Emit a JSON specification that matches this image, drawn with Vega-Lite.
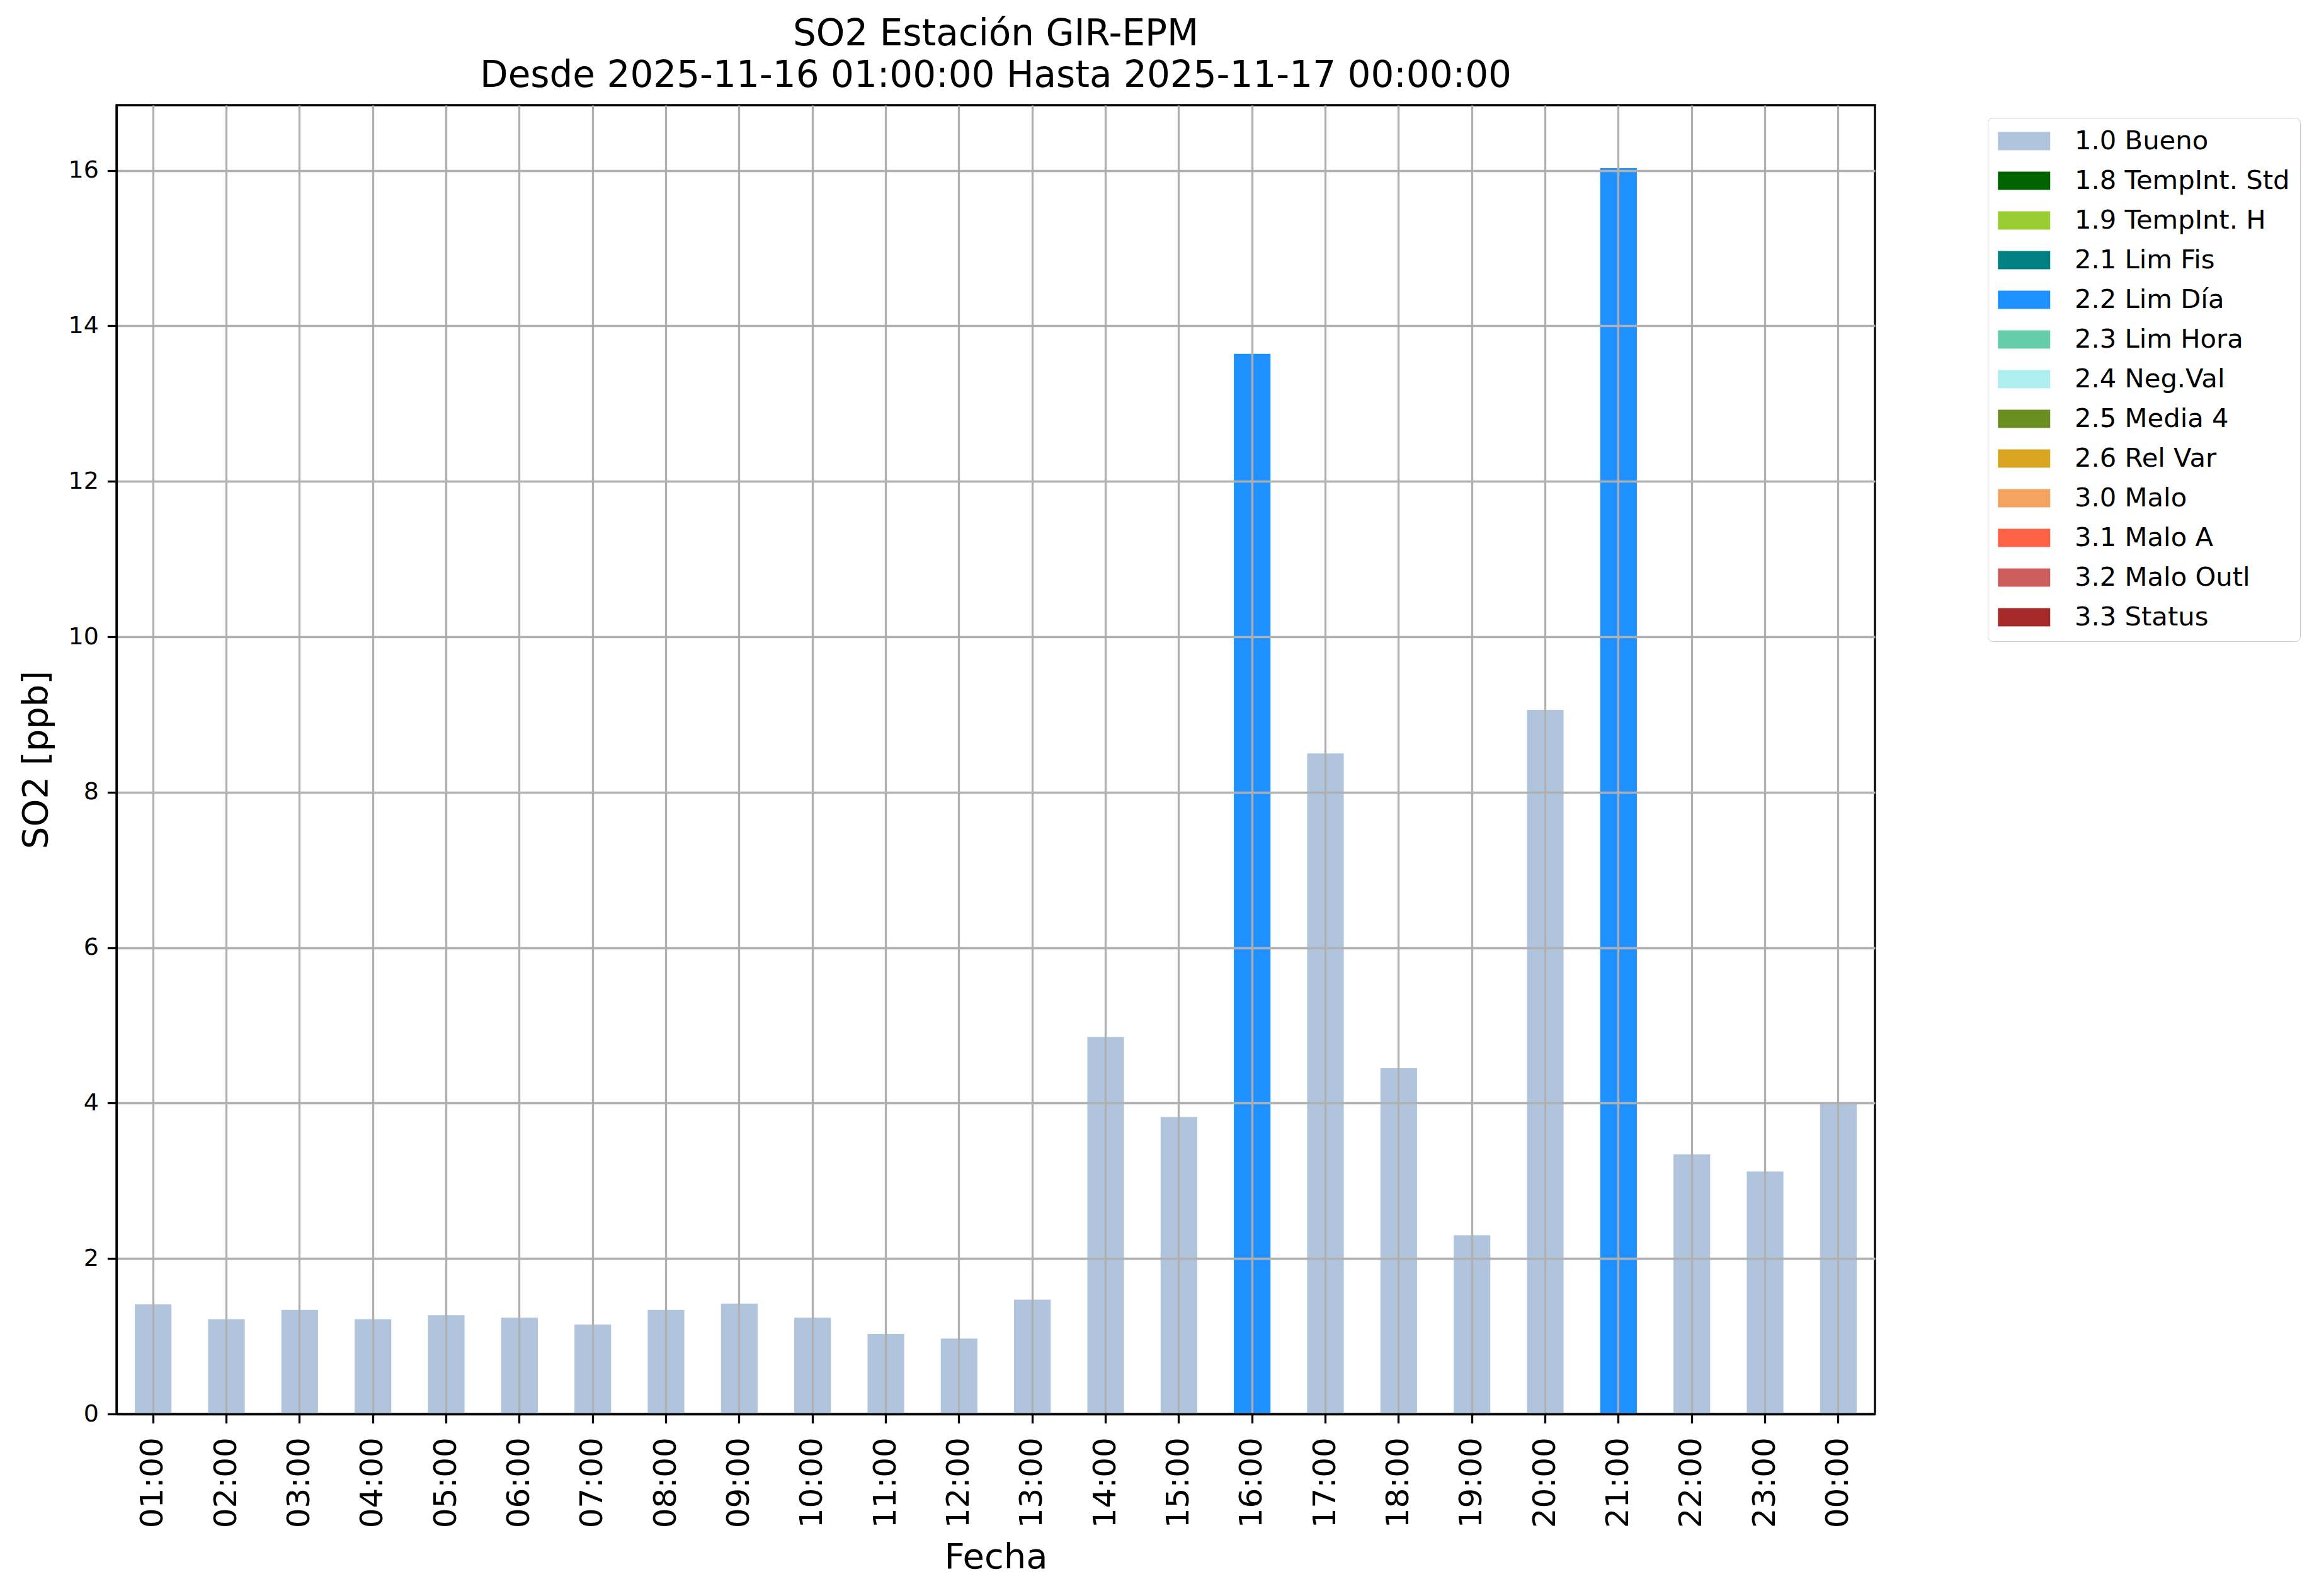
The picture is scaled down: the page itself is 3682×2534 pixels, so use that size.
{
  "$schema": "https://vega.github.io/schema/vega-lite/v6.json",
  "width": 2792,
  "height": 2078,
  "autosize": {"type": "none"},
  "padding": {"left": 185, "top": 167, "right": 705, "bottom": 289},
  "background": "white",
  "config": {
    "font": "DejaVu Sans",
    "view": {"stroke": "black", "strokeWidth": 3.3},
    "axis": {"labelFont": "DejaVu Sans", "titleFont": "DejaVu Sans", "titleFontWeight": "normal", "labelColor": "black", "titleColor": "black"}
  },
  "title": {
    "text": ["SO2 Estación GIR-EPM", "Desde 2025-11-16 01:00:00 Hasta 2025-11-17 00:00:00"],
    "fontSize": 58,
    "fontWeight": "normal",
    "font": "DejaVu Sans",
    "lineHeight": 66,
    "anchor": "middle",
    "offset": 17,
    "color": "black"
  },
  "data": {
    "values": [
      {"hora": "01:00", "so2": 1.41, "flag": "1.0 Bueno"},
      {"hora": "02:00", "so2": 1.22, "flag": "1.0 Bueno"},
      {"hora": "03:00", "so2": 1.34, "flag": "1.0 Bueno"},
      {"hora": "04:00", "so2": 1.22, "flag": "1.0 Bueno"},
      {"hora": "05:00", "so2": 1.27, "flag": "1.0 Bueno"},
      {"hora": "06:00", "so2": 1.24, "flag": "1.0 Bueno"},
      {"hora": "07:00", "so2": 1.15, "flag": "1.0 Bueno"},
      {"hora": "08:00", "so2": 1.34, "flag": "1.0 Bueno"},
      {"hora": "09:00", "so2": 1.42, "flag": "1.0 Bueno"},
      {"hora": "10:00", "so2": 1.24, "flag": "1.0 Bueno"},
      {"hora": "11:00", "so2": 1.03, "flag": "1.0 Bueno"},
      {"hora": "12:00", "so2": 0.97, "flag": "1.0 Bueno"},
      {"hora": "13:00", "so2": 1.47, "flag": "1.0 Bueno"},
      {"hora": "14:00", "so2": 4.85, "flag": "1.0 Bueno"},
      {"hora": "15:00", "so2": 3.82, "flag": "1.0 Bueno"},
      {"hora": "16:00", "so2": 13.64, "flag": "2.2 Lim Día"},
      {"hora": "17:00", "so2": 8.5, "flag": "1.0 Bueno"},
      {"hora": "18:00", "so2": 4.45, "flag": "1.0 Bueno"},
      {"hora": "19:00", "so2": 2.3, "flag": "1.0 Bueno"},
      {"hora": "20:00", "so2": 9.06, "flag": "1.0 Bueno"},
      {"hora": "21:00", "so2": 16.03, "flag": "2.2 Lim Día"},
      {"hora": "22:00", "so2": 3.34, "flag": "1.0 Bueno"},
      {"hora": "23:00", "so2": 3.12, "flag": "1.0 Bueno"},
      {"hora": "00:00", "so2": 4.0, "flag": "1.0 Bueno"}
    ]
  },
  "mark": {"type": "bar"},
  "encoding": {
    "x": {
      "field": "hora",
      "type": "ordinal",
      "sort": ["01:00","02:00","03:00","04:00","05:00","06:00","07:00","08:00","09:00","10:00","11:00","12:00","13:00","14:00","15:00","16:00","17:00","18:00","19:00","20:00","21:00","22:00","23:00","00:00"],
      "scale": {"type": "band", "paddingInner": 0.5, "paddingOuter": 0.25},
      "axis": {
        "title": "Fecha",
        "titleFontSize": 56,
        "titlePadding": 20,
        "labelFontSize": 50,
        "labelAngle": 270,
        "labelAlign": "right",
        "labelBaseline": "middle",
        "labelPadding": 22,
        "bandPosition": 0.5,
        "grid": true,
        "gridColor": "#b0b0b0",
        "gridWidth": 3.3,
        "domainColor": "black",
        "domainWidth": 3.3,
        "tickColor": "black",
        "tickWidth": 3.3,
        "tickSize": 14.6,
        "zindex": 1
      }
    },
    "y": {
      "field": "so2",
      "type": "quantitative",
      "scale": {"domain": [0, 16.84], "nice": false, "zero": true},
      "axis": {
        "title": "SO2 [ppb]",
        "titleFontSize": 56,
        "titlePadding": 22,
        "labelFontSize": 38,
        "labelPadding": 14,
        "values": [0, 2, 4, 6, 8, 10, 12, 14, 16],
        "grid": true,
        "gridColor": "#b0b0b0",
        "gridWidth": 3.3,
        "domainColor": "black",
        "domainWidth": 3.3,
        "tickColor": "black",
        "tickWidth": 3.3,
        "tickSize": 14.6,
        "zindex": 1
      }
    },
    "color": {
      "field": "flag",
      "type": "nominal",
      "scale": {
        "domain": ["1.0 Bueno", "1.8 TempInt. Std", "1.9 TempInt. H", "2.1 Lim Fis", "2.2 Lim Día", "2.3 Lim Hora", "2.4 Neg.Val", "2.5 Media 4", "2.6 Rel Var", "3.0 Malo", "3.1 Malo A", "3.2 Malo Outl", "3.3 Status"],
        "range": ["#B0C4DE", "#006400", "#9ACD32", "#008080", "#1E90FF", "#66CDAA", "#AFEEEE", "#6B8E23", "#DAA520", "#F4A460", "#FF6347", "#CD5C5C", "#A52A2A"]
      },
      "legend": {
        "orient": "none",
        "legendX": 2971,
        "legendY": 20,
        "title": null,
        "symbolType": "M-1,-0.7L3,-0.7L3,0.7L-1,0.7Z",
        "symbolSize": 1722,
        "symbolStrokeWidth": 0,
        "symbolOpacity": 1,
        "labelFontSize": 41.7,
        "labelFont": "DejaVu Sans",
        "labelColor": "black",
        "labelOffset": 80,
        "labelLimit": 1000,
        "rowPadding": 20,
        "padding": 16,
        "strokeColor": "#cccccc",
        "cornerRadius": 8,
        "fillColor": "white"
      }
    }
  }
}
